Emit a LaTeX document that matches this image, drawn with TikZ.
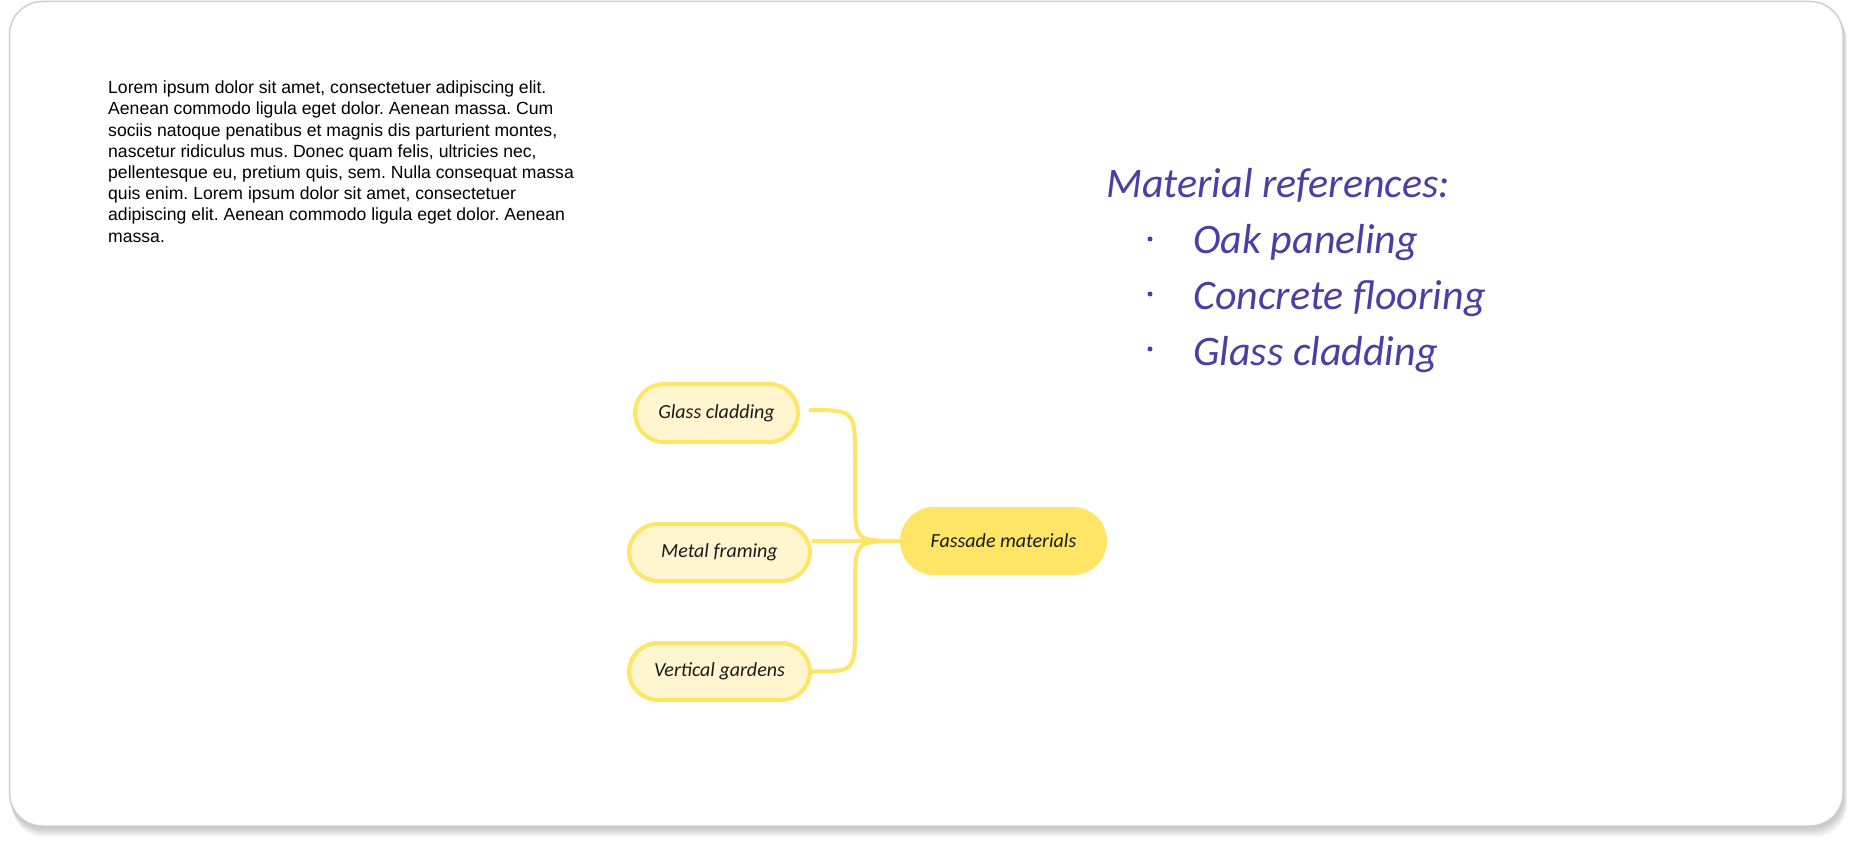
\documentclass[tikz,border=0pt]{standalone}
\usepackage{fontspec}
\setmainfont{Liberation Sans}
\newfontfamily\handfont{Carlito}
\definecolor{handink}{HTML}{4B3FA6}
\definecolor{leafborder}{HTML}{FFE566}
\definecolor{leaffill}{HTML}{FFF6CF}
\definecolor{hubfill}{HTML}{FFE566}
\definecolor{darktext}{HTML}{1A1A1A}
\definecolor{cardedge}{HTML}{CFCFCF}
\tikzset{
  leaf/.style={draw=leafborder, line width=4, fill=leaffill, rounded corners=29,
    inner sep=0, text=darktext, font=\handfont\itshape\fontsize{20}{24}\selectfont},
  hub/.style={fill=hubfill, rounded corners=34, inner sep=0, text=darktext,
    font=\handfont\itshape\fontsize{20}{24}\selectfont},
  conn/.style={draw=leafborder, line width=4},
  handtxt/.style={inner sep=0, text=handink, font=\handfont\itshape\fontsize{42}{50}\selectfont},
  bulletdot/.style={circle, fill=handink, inner sep=0, minimum size=5},
  para/.style={inner sep=0, align=left, text=black, font=\frenchspacing\fontsize{17.6}{21.2}\selectfont}
}
\begin{document}
\begin{tikzpicture}[x=1pt,y=-1pt]
\useasboundingbox (0,0) rectangle (1852,842);
% card shadow
\foreach \k in {1,...,7}{
  \fill[black, opacity=0.035, rounded corners=33] (9+0.4*\k,1+1.2*\k) rectangle (1843+0.6*\k,826+1.6*\k);
}
% card
\draw[draw=cardedge, line width=1.5, fill=white, rounded corners=33] (9.5,1.5) rectangle (1843,826);

% paragraph
\node[para, anchor=north west] (para) at (108,80.7) {Lorem ipsum dolor sit amet, consectetuer adipiscing elit.\\
Aenean commodo ligula eget dolor. Aenean massa. Cum\\
sociis natoque penatibus et magnis dis parturient montes,\\
nascetur ridiculus mus. Donec quam felis, ultricies nec,\\
pellentesque eu, pretium quis, sem. Nulla consequat massa\\
quis enim. Lorem ipsum dolor sit amet, consectetuer\\
adipiscing elit. Aenean commodo ligula eget dolor. Aenean\\
massa.};

% handwritten list
\node[handtxt, anchor=base west] (title) at (1106,198) {Material references:};
\node[bulletdot] (b1) at (1150,239) {};
\node[bulletdot] (b2) at (1150,294) {};
\node[bulletdot] (b3) at (1150,349) {};
\node[handtxt, anchor=base west] (i1) at (1193,254) {Oak paneling};
\node[handtxt, anchor=base west] (i2) at (1193,309) {Concrete flooring};
\node[handtxt, anchor=base west] (i3) at (1193,365) {Glass cladding};

% mind map
\node[hub, minimum width=207, minimum height=68] (hub) at (1003.5,541) {Fassade materials};
\node[leaf, minimum width=163, minimum height=58] (glass) at (716.5,413) {Glass cladding};
\node[leaf, minimum width=181, minimum height=57] (metal) at (719.5,552.5) {Metal framing};
\node[leaf, minimum width=181, minimum height=57] (vert) at (719.5,671.5) {Vertical gardens};

\draw[conn] ([xshift=9pt,yshift=3pt]glass.east) .. controls (855,410) .. (855,460) -- (855,495) .. controls (855,541) .. (hub.west);
\draw[conn] (metal.east |- hub.west) -- (hub.west);
\draw[conn] (vert.east) .. controls (855,671.5) .. (855,625) -- (855,590) .. controls (855,541) .. (hub.west);
\end{tikzpicture}
\end{document}
